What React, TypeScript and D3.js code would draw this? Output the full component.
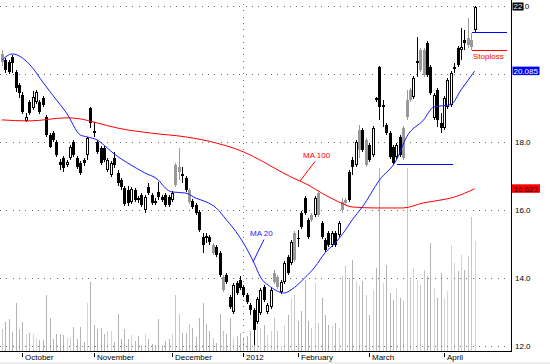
import React from 'react';
import * as d3 from 'd3';

// daily OHLC (late Sep 2011 .. mid Apr 2012)
const open = [
  20.35, 20.41, 20.35, 20.50, 20.06, 19.68, 19.38, 18.62, 19.18, 19.00,
  19.18, 19.18, 19.29, 18.74, 18.21, 18.26, 18.00, 17.41, 17.53, 17.32,
  17.53, 18.00, 17.53, 17.38, 17.47, 17.62, 19.00, 18.32, 18.00, 17.82,
  17.82, 17.18, 17.03, 17.53, 17.09, 16.88, 16.65, 16.59, 16.24, 16.59,
  16.35, 16.44, 16.00, 16.68, 16.44, 16.26, 16.53, 16.38, 16.44, 16.38,
  16.29, 16.74, 17.12, 17.06, 16.94, 16.24, 16.26, 16.15, 15.94, 15.21,
  15.24, 15.21, 14.73, 14.91, 14.73, 13.65, 14.09, 13.44, 13.00, 13.85,
  13.94, 13.74, 13.50, 13.21, 13.06, 12.71, 12.97, 13.74, 13.00, 13.15,
  13.88, 13.74, 13.59, 13.88, 14.62, 14.44, 14.53, 15.18, 15.91, 16.35,
  15.71, 15.71, 15.85, 15.85, 15.62, 15.12, 15.32, 14.97, 15.32, 15.26,
  16.00, 16.21, 17.12, 17.47, 17.32, 17.76, 18.35, 17.32, 17.91, 17.62,
  19.29, 20.21, 19.03, 18.50, 18.26, 17.85, 17.56, 18.15, 17.53, 18.74,
  19.24, 19.32, 20.32, 20.12, 19.97, 20.91, 20.21, 18.71, 19.53, 18.56,
  18.41, 19.03, 19.09, 20.15, 20.76, 20.71, 21.00, 20.85, 20.79, 21.29,
];
const high = [
  20.71, 20.47, 20.41, 20.56, 20.12, 19.73, 19.47, 18.85, 19.24, 19.50,
  19.53, 19.24, 19.35, 18.79, 18.26, 18.32, 18.06, 17.50, 17.59, 17.47,
  17.91, 18.06, 17.59, 17.44, 17.53, 18.15, 19.03, 18.59, 18.06, 17.88,
  17.88, 17.53, 17.44, 17.71, 17.18, 16.94, 16.71, 16.71, 16.68, 16.65,
  16.41, 16.50, 16.44, 16.79, 16.50, 16.35, 16.82, 16.44, 16.50, 16.44,
  16.56, 17.38, 17.82, 17.26, 17.00, 16.65, 16.32, 16.21, 16.00, 15.32,
  15.32, 15.27, 15.03, 14.97, 14.79, 14.09, 14.15, 13.50, 13.85, 13.91,
  14.06, 13.79, 13.56, 13.27, 13.12, 13.44, 13.71, 13.79, 13.27, 13.71,
  14.24, 14.09, 13.94, 14.50, 14.68, 15.12, 15.38, 15.41, 15.97, 16.41,
  15.76, 15.91, 16.41, 16.56, 15.68, 15.18, 15.38, 15.38, 15.38, 15.68,
  16.35, 16.35, 17.18, 17.56, 18.06, 18.50, 18.41, 18.12, 17.97, 18.47,
  19.32, 20.24, 19.24, 18.56, 18.32, 17.91, 17.97, 18.21, 18.47, 19.53,
  19.59, 19.94, 21.09, 20.76, 20.76, 20.97, 20.27, 19.44, 19.59, 18.85,
  19.35, 19.88, 20.09, 20.32, 20.82, 21.35, 21.29, 21.65, 21.21, 22.00,
];
const low = [
  20.24, 20.03, 20.00, 20.03, 19.47, 19.29, 18.82, 18.59, 18.79, 18.94,
  19.12, 18.82, 19.03, 18.15, 17.82, 18.00, 17.56, 17.18, 17.12, 17.26,
  17.47, 17.56, 17.21, 17.03, 17.29, 17.47, 18.41, 18.15, 17.65, 17.32,
  17.41, 17.12, 16.97, 17.24, 16.71, 16.59, 16.12, 16.12, 16.18, 16.24,
  16.21, 16.09, 15.91, 16.44, 16.15, 16.15, 16.29, 16.24, 16.09, 16.09,
  16.24, 16.68, 16.88, 16.79, 16.53, 16.18, 16.03, 15.85, 15.35, 14.73,
  15.03, 14.97, 14.68, 14.62, 14.03, 13.59, 13.82, 13.09, 12.94, 13.50,
  13.65, 13.44, 13.24, 12.91, 12.03, 12.65, 12.91, 13.29, 12.94, 13.09,
  13.82, 13.68, 13.53, 13.82, 14.09, 14.38, 14.47, 14.91, 15.44, 15.85,
  15.15, 15.65, 15.79, 15.79, 15.15, 14.76, 14.91, 14.91, 14.91, 15.21,
  15.91, 16.15, 16.24, 17.03, 17.26, 17.53, 17.71, 17.26, 17.41, 17.56,
  19.18, 18.65, 18.44, 18.21, 17.50, 17.32, 17.50, 17.56, 17.47, 18.65,
  19.18, 19.26, 19.91, 20.06, 19.91, 19.91, 19.38, 18.65, 18.44, 18.26,
  18.35, 18.97, 19.03, 20.03, 20.21, 20.41, 20.71, 20.76, 20.71, 21.24,
];
const close = [
  20.59, 20.12, 20.06, 20.32, 19.59, 19.44, 18.88, 18.74, 18.85, 19.32,
  19.47, 18.88, 19.09, 18.21, 17.85, 18.06, 17.62, 17.32, 17.24, 17.41,
  17.85, 17.62, 17.26, 17.09, 17.38, 18.12, 18.56, 18.26, 17.71, 17.38,
  17.47, 17.47, 17.38, 17.32, 16.79, 16.68, 16.18, 16.21, 16.62, 16.29,
  16.29, 16.15, 16.38, 16.50, 16.21, 16.21, 16.38, 16.29, 16.15, 16.15,
  16.50, 17.32, 17.26, 17.00, 16.59, 16.59, 16.09, 15.91, 15.41, 14.97,
  15.18, 15.06, 14.97, 14.68, 14.09, 14.03, 13.88, 13.15, 13.79, 13.56,
  13.71, 13.50, 13.29, 13.06, 12.47, 13.38, 13.65, 13.35, 13.21, 13.65,
  14.15, 14.03, 13.88, 14.44, 14.15, 15.06, 15.32, 15.15, 15.50, 15.91,
  15.21, 15.85, 16.35, 16.50, 15.21, 14.82, 14.97, 15.32, 14.97, 15.62,
  16.24, 16.29, 16.29, 17.26, 18.00, 18.35, 17.76, 18.06, 17.47, 18.41,
  19.24, 19.03, 19.09, 18.26, 17.56, 17.38, 17.91, 17.62, 18.41, 19.24,
  19.53, 19.88, 20.38, 20.71, 20.71, 19.97, 19.44, 19.38, 18.65, 18.41,
  19.29, 19.82, 20.03, 20.21, 20.26, 20.79, 20.91, 21.06, 21.00, 21.97,
];
// b = black body, w = hollow body, g = grey body
const tone = (
  'gbbbbbbwbw' + 'wbbbbbbbbw' + 'wbbbbwbbbb' + 'bwwbbbbbwb' +
  'bbwbbbbbbb' + 'wggbbgbbbb' + 'bbgbbgbbwb' + 'bbbbbwwbww' +
  'ggwwbwgbbb' + 'bgwgbbbwbw' + 'ggbbwgbgbw' + 'bbwbbbwbgg' +
  'gwwggbbwbb' + 'wwwwbwbggw'
).split('');
const volume = [
  22, 29, 32, 19, 48, 22, 29, 17, 18, 17,
  13, 11, 11, 56, 33, 12, 17, 17, 16, 13,
  14, 24, 12, 24, 9, 48, 69, 26, 22, 23,
  17, 20, 20, 9, 37, 12, 22, 12, 16, 10,
  15, 6, 17, 12, 7, 6, 32, 6, 10, 12,
  17, 56, 37, 18, 18, 27, 23, 14, 33, 48,
  27, 20, 13, 8, 37, 20, 17, 33, 13, 15,
  18, 12, 15, 20, 6, 25, 23, 26, 16, 20,
  33, 20, 6, 26, 36, 53, 56, 30, 40, 71,
  30, 23, 68, 28, 53, 36, 26, 25, 28, 23,
  75, 85, 73, 91, 70, 65, 70, 56, 36, 61,
  83, 183, 68, 86, 58, 51, 63, 53, 50, 183,
  71, 83, 71, 66, 81, 75, 108, 63, 53, 78,
  53, 60, 106, 88, 80, 96, 81, 95, 134, 110,
];

// moving averages, sampled along the drawn lines (bar index, value)
const ma20Idx = [0, 3, 9, 12, 16, 19, 23, 25, 28, 31, 33, 37, 42, 46, 48, 50, 54, 57, 60, 63, 66, 68, 71, 74, 76, 79, 83, 85, 89, 92, 95, 98, 101, 103, 106, 111, 116, 119, 124, 127, 132, 135, 139];
const ma20Val = [20.41, 20.59, 20.18, 19.76, 19.24, 18.85, 18.21, 18.15, 18.06, 17.82, 17.65, 17.38, 17.09, 16.88, 16.65, 16.53, 16.5, 16.35, 16.24, 16.06, 15.71, 15.47, 15.03, 14.47, 14.03, 13.74, 13.56, 13.65, 14.0, 14.32, 14.74, 15.03, 15.41, 15.71, 16.09, 16.88, 17.47, 18.15, 18.65, 19.03, 19.1, 19.53, 20.085];
const ma100Idx = [0, 8, 19, 23, 28, 34, 44, 54, 63, 71, 77, 80, 85, 90, 94, 99, 103, 110, 118, 124, 127, 133, 139];
const ma100Val = [18.65, 18.62, 18.71, 18.68, 18.56, 18.41, 18.26, 18.15, 17.97, 17.71, 17.41, 17.24, 16.97, 16.74, 16.5, 16.24, 16.09, 16.06, 16.06, 16.21, 16.26, 16.38, 16.623];

const monthLabels = ['October', 'November', 'December', '2012', 'February', 'March', 'April'];
const monthIdx = [6, 27, 50, 71, 87, 108, 130];

// drawn level lines: price, from bar, to bar
const stopLoss = 20.71;
const levels = [
  { price: 21.23, from: 138.1, to: 148.4, color: '#0000ff' },
  { price: 17.35, from: 116.2, to: 132.7, color: '#0000ff' },
];

const W = 550;
const H = 364;
const axisX = 511.5;
const axisY = 351.5;
const font = '"Liberation Sans", Arial, sans-serif';

const x = d3.scaleLinear().domain([0, 139]).range([2, 474.6]);
const y = d3.scaleLinear().domain([12, 22]).range([346, 6]);
const yVol = d3.scaleLinear().domain([0, 183]).range([351, 168]);
const fmt = d3.format('.1f');

const lineGen = d3
  .line<[number, number]>()
  .x((d) => x(d[0]))
  .y((d) => y(d[1]))
  .curve(d3.curveMonotoneX);

const ma20Path = lineGen(ma20Idx.map((v, i) => [v, ma20Val[i]] as [number, number])) || '';
const ma100Path = lineGen(ma100Idx.map((v, i) => [v, ma100Val[i]] as [number, number])) || '';

const volColor: Record<string, string> = { b: '#b4b4b4', w: '#d4d4d4', g: '#c6c6c6' };

export default function App() {
  const px = (i: number) => Math.round(x(i));
  const lastMa20 = ma20Val[ma20Val.length - 1];
  const lastMa100 = ma100Val[ma100Val.length - 1];
  const gridTicks = y.ticks(5);

  return (
    <div style={{ position: 'absolute', left: 0, top: 0, width: W, height: H, background: '#fff' }}>
      <svg width={W} height={H} style={{ display: 'block', fontFamily: font }}>
        <rect x={0} y={0} width={W} height={H} fill="#fff" />
        <rect x={0} y={362} width={W} height={2} fill="#eeeeee" />

        {/* volume */}
        <g shapeRendering="crispEdges">
          {volume.map((v, i) => (
            <line key={i} x1={px(i) + 0.5} x2={px(i) + 0.5} y1={351} y2={yVol(v)} stroke={volColor[tone[i]]} />
          ))}
        </g>

        {/* grid */}
        <g stroke="#6e6e6e" strokeDasharray="1,5.3" shapeRendering="crispEdges">
          {gridTicks.map((t) => (
            <line key={t} x1={0} x2={509} y1={Math.round(y(t)) + 0.5} y2={Math.round(y(t)) + 0.5} />
          ))}
          <line x1={px(71) + 0.5} x2={px(71) + 0.5} y1={4} y2={351} />
        </g>

        {/* candles */}
        <g shapeRendering="crispEdges">
          {open.map((o, i) => {
            const c = close[i];
            const cx = px(i);
            const top = Math.round(y(Math.max(o, c)));
            const bot = Math.round(y(Math.min(o, c)));
            const hgt = Math.max(1, bot - top);
            const t = tone[i];
            const ink = t === 'g' ? '#999999' : '#000';
            return (
              <g key={i}>
                <line x1={cx + 0.5} x2={cx + 0.5} y1={Math.round(y(high[i]))} y2={Math.round(y(low[i]))} stroke={ink} />
                {t === 'w' ? (
                  <rect x={cx - 0.5} y={top + 0.5} width={2} height={Math.max(1, hgt - 1)} fill="#fff" stroke="#000" />
                ) : (
                  <rect x={cx - 1} y={top} width={3} height={hgt} fill={ink} />
                )}
              </g>
            );
          })}
        </g>

        {/* moving averages */}
        <path d={ma100Path} fill="none" stroke="#ff0000" strokeWidth={1} />
        <path d={ma20Path} fill="none" stroke="#1a1aff" strokeWidth={1} />

        {/* labels on the averages */}
        <text x={303} y={158} fontSize={8} fill="#ff0000">MA 100</text>
        <line x1={315} y1={161.5} x2={300} y2={181} stroke="#ff0000" />
        <text x={250} y={235.5} fontSize={8} fill="#1a1aff">MA 20</text>
        <line x1={264} y1={239.5} x2={253} y2={262} stroke="#1a1aff" />

        {/* levels */}
        <g shapeRendering="crispEdges">
          {levels.map((l, k) => (
            <line key={k} x1={x(l.from)} x2={x(l.to)} y1={Math.round(y(l.price)) + 0.5} y2={Math.round(y(l.price)) + 0.5} stroke={l.color} />
          ))}
          <line x1={x(138.1)} x2={x(148.4)} y1={Math.round(y(stopLoss)) + 0.5} y2={Math.round(y(stopLoss)) + 0.5} stroke="#ff0000" />
        </g>
        <text x={473} y={59} fontSize={8} fill="#ff0000">Stoploss</text>

        {/* axes */}
        <g stroke="#000" shapeRendering="crispEdges">
          <line x1={axisX} x2={axisX} y1={0} y2={axisY} />
          <line x1={0} x2={axisX} y1={axisY} y2={axisY} />
          {monthIdx.map((m) => (
            <line key={m} x1={px(m) + 0.5} x2={px(m) + 0.5} y1={353} y2={357} />
          ))}
        </g>
        {monthLabels.map((m, k) => (
          <text key={m} x={px(monthIdx[k]) + 3} y={360} fontSize={8} fill="#000">{m}</text>
        ))}

        {/* price axis; 20.0 sits under the MA 20 value box */}
        {gridTicks.map((t) =>
          t === 22 || t === 20 ? null : (
            <text key={t} x={515} y={y(t) + 3} fontSize={8} fill="#000">{fmt(t)}</text>
          )
        )}
        <rect x={512.5} y={2.5} width={11} height={8} fill="#000" />
        <text x={513.5} y={y(22) + 3} fontSize={8}>
          <tspan fill="#fff">22</tspan>
          <tspan fill="#000">.0</tspan>
        </text>
        <rect x={512.5} y={y(lastMa20) - 4.5} width={27} height={8.5} fill="#0000ff" />
        <text x={513.5} y={y(lastMa20) + 3} fontSize={8} fill="#fff">{d3.format('.3f')(lastMa20)}</text>
        <rect x={512} y={y(lastMa100) - 4.5} width={28} height={8.5} fill="#ff0000" />
        <text x={513.5} y={y(lastMa100) + 3} fontSize={8} fill="#3a0000">{d3.format('.3f')(lastMa100)}</text>
      </svg>
    </div>
  );
}
